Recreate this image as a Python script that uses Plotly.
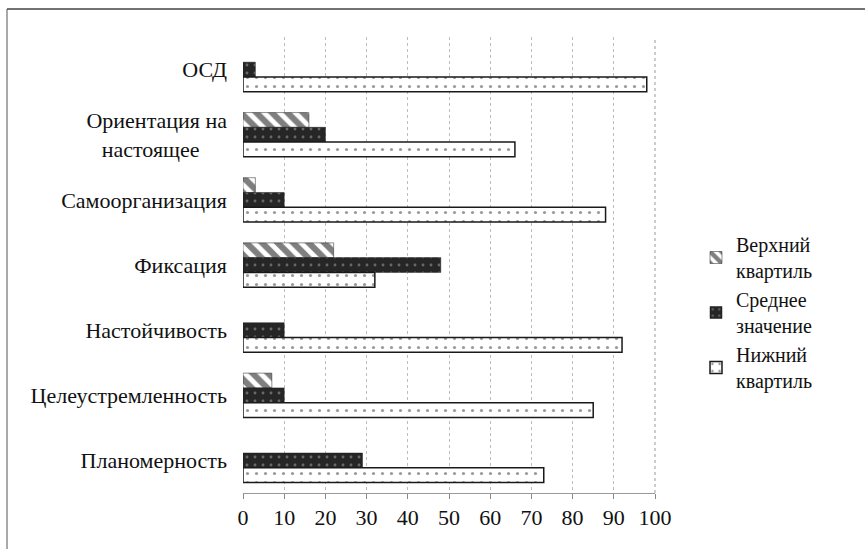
import plotly.graph_objects as go

categories = ["ОСД", "Ориентация на<br>настоящее\u00a0\u00a0\u00a0\u00a0\u00a0", "Самоорганизация", "Фиксация",
              "Настойчивость", "Целеустремленность", "Планомерность"]
upper_q = [None, 16, 3, 22, None, 7, None]
mean_v = [3, 20, 10, 48, 10, 10, 29]
lower_q = [98, 66, 88, 32, 92, 85, 73]
x_ticks = [0, 10, 20, 30, 40, 50, 60, 70, 80, 90, 100]

FONT = "Times New Roman, Liberation Serif, DejaVu Serif, serif"

fig = go.Figure()
fig.add_trace(go.Bar(
    y=categories, x=upper_q, orientation="h", name="Верхний<br>квартиль",
    marker=dict(color="white", line=dict(color="#222", width=0.5),
                pattern=dict(shape="\\", fgcolor="#000", bgcolor="white", size=11, solidity=0.55)),
))
fig.add_trace(go.Bar(
    y=categories, x=mean_v, orientation="h", name="Среднее<br>значение",
    marker=dict(color="#262626", line=dict(color="#1a1a1a", width=0.5),
                pattern=dict(shape=".", fgcolor="#aaaaaa", bgcolor="#262626", size=8, solidity=0.1)),
))
fig.add_trace(go.Bar(
    y=categories, x=lower_q, orientation="h", name="Нижний<br>квартиль",
    marker=dict(color="white", line=dict(color="#1a1a1a", width=1.5),
                pattern=dict(shape=".", fgcolor="#333", bgcolor="white", size=9, solidity=0.1)),
))

L, R, T, B = 243, 210, 37, 56
W, H = 865, 549
pw, ph = W - L - R, H - T - B

def px_x(p):
    return (p - L) / pw

def px_y(p):
    return 1 - (p - T) / ph

fig.update_layout(
    width=W, height=H,
    margin=dict(l=L, r=R, t=T, b=B, autoexpand=False),
    paper_bgcolor="white", plot_bgcolor="white",
    barmode="group", bargap=0.32, bargroupgap=0,
    font=dict(family=FONT, size=22, color="#111"),
    showlegend=True,
    legend=dict(x=px_x(696), y=px_y(225), xanchor="left", yanchor="top",
                font=dict(family=FONT, size=20, color="#111"),
                bgcolor="rgba(0,0,0,0)", itemwidth=30, tracegroupgap=0),
    xaxis=dict(range=[0, 100], tickvals=x_ticks, ticktext=[str(v) for v in x_ticks],
               showgrid=True, gridcolor="#bdbdbd", griddash="dot", gridwidth=1,
               showline=True, linecolor="#999", linewidth=1, mirror=False,
               ticks="outside", ticklen=5, tickcolor="#888",
               tickfont=dict(family=FONT, size=22, color="#111"),
               zeroline=False, fixedrange=True, automargin=False),
    yaxis=dict(autorange="reversed", showgrid=False, showline=False, ticks="",
               ticklabelstandoff=15, tickfont=dict(family=FONT, size=22, color="#111"),
               fixedrange=True, automargin=False),
    shapes=[
        dict(type="line", xref="paper", yref="paper", x0=1, x1=1, y0=0, y1=1,
             line=dict(color="#999", width=1, dash="dot")),
        dict(type="line", xref="paper", yref="paper", x0=px_x(7), x1=px_x(866),
             y0=px_y(9), y1=px_y(9), line=dict(color="#444", width=1.5)),
        dict(type="line", xref="paper", yref="paper", x0=px_x(7), x1=px_x(7),
             y0=px_y(9), y1=px_y(550), line=dict(color="#555", width=1)),
    ],
)

fig.write_html("out.html", config={"displayModeBar": False},
               post_script="document.body.style.margin='0px';document.body.style.overflow='hidden';")
